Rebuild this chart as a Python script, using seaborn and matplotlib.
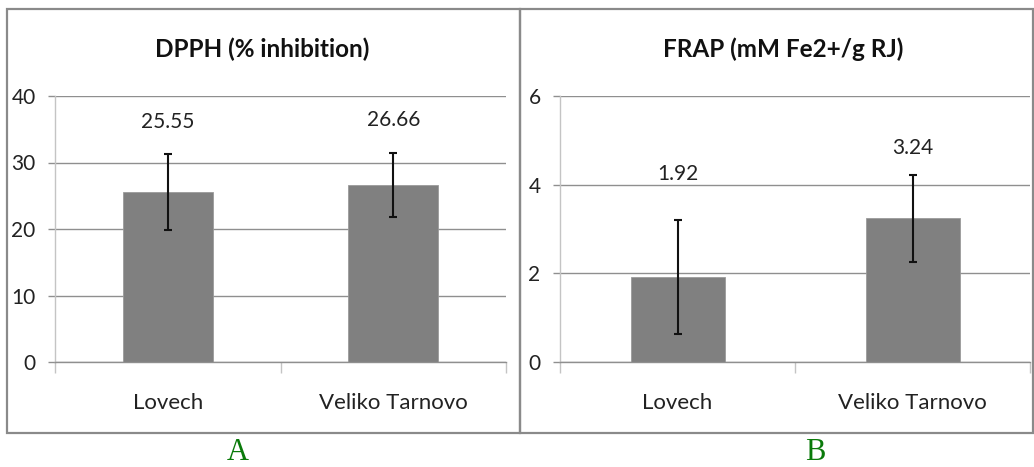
import matplotlib
matplotlib.use("Agg")
import matplotlib.pyplot as plt
from matplotlib.patches import Rectangle
import seaborn as sns
import pandas as pd

# ---- data ----
regions = ["Lovech", "Veliko Tarnovo"]
dpph_values = [25.55, 26.66]
dpph_errors = [5.7, 4.8]
frap_values = [1.92, 3.24]
frap_errors = [1.28, 0.98]
dpph_title = "DPPH (% inhibition)"
frap_title = "FRAP (mM Fe2+/g RJ)"
dpph_ticks = [0, 10, 20, 30, 40]
frap_ticks = [0, 2, 4, 6]
panel_letters = ["A", "B"]

sns.set_theme(style="white")
FONT = ["Lato", "DejaVu Sans"]
plt.rcParams["font.family"] = FONT

W, H = 1034, 467
fig = plt.figure(figsize=(W / 100, H / 100), dpi=100)


def fx(px):
    return px / W


def fy(py):
    return 1 - py / H


BAR_COLOR = "#808080"
GRID_COLOR = "#8f8f8f"
LIGHT = "#c4c4c4"
BORDER = "#8a8a8a"


def panel(ax_rect, values, errors, ticks, title, title_x, label_off_px):
    left, top, right, bottom = ax_rect
    ax = fig.add_axes([fx(left), fy(bottom), fx(right - left), (bottom - top) / H])
    df = pd.DataFrame({"region": regions, "value": values})
    sns.barplot(data=df, x="region", y="value", color=BAR_COLOR, saturation=1,
                width=0.4, errorbar=None, ax=ax, edgecolor="#9a9a9a", linewidth=0.6)
    xs = [p.get_x() + p.get_width() / 2 for p in ax.patches]
    ax.errorbar(xs, values, yerr=errors, fmt="none", ecolor="#111111",
                elinewidth=1.5, capsize=2.8, capthick=1.5, zorder=5)
    ax.set_xlim(-0.5, 1.5)
    ax.set_ylim(ticks[0], ticks[-1])
    ax.set_yticks(ticks)
    ax.set_yticklabels([str(t) for t in ticks])
    ax.yaxis.grid(True, color=GRID_COLOR, linewidth=1.0)
    ax.set_axisbelow(True)
    ax.set_xlabel("")
    ax.set_ylabel("")
    for s in ["top", "right"]:
        ax.spines[s].set_visible(False)
    ax.spines["left"].set_color(LIGHT)
    ax.spines["left"].set_linewidth(1.0)
    ax.spines["bottom"].set_color(GRID_COLOR)
    ax.spines["bottom"].set_linewidth(1.0)
    ax.tick_params(axis="y", which="major", length=5, width=1.0, color=GRID_COLOR,
                   pad=9, labelsize=15, labelcolor="#222222", left=True)
    ax.set_xticks([-0.5, 0.5, 1.5], minor=True)
    ax.tick_params(axis="x", which="minor", length=8, width=1.0, color=LIGHT,
                   bottom=True, direction="out")
    ax.tick_params(axis="x", which="major", length=0, pad=22, labelsize=16,
                   labelcolor="#222222")
    for x, v, e, off in zip(xs, values, errors, label_off_px):
        ax.annotate(f"{v:.2f}", xy=(x, v + e), xytext=(0, off * 0.72),
                    textcoords="offset points", ha="center", va="center",
                    fontsize=15, color="#222222")
    fig.text(fx(title_x), fy(49), title, ha="center", va="center",
             fontsize=17.5, fontweight="bold", color="#111111")
    return ax


panel((55, 96, 506, 362), dpph_values, dpph_errors, dpph_ticks, dpph_title, 262, [32, 33])
panel((560, 96, 1030, 362), frap_values, frap_errors, frap_ticks, frap_title, 783, [46, 27])

# panel borders
for (x0, x1) in [(7, 520), (520, 1033)]:
    fig.patches.append(Rectangle((fx(x0), fy(433)), fx(x1 - x0), (433 - 9) / H,
                                 transform=fig.transFigure, fill=False,
                                 edgecolor=BORDER, linewidth=1.6))

for letter, xc in zip(panel_letters, [238, 815]):
    fig.text(fx(xc), fy(452), letter, ha="center", va="center", fontsize=22,
             color="#0a7a0a", family=["Liberation Serif", "DejaVu Serif"])

fig.savefig("out.png", dpi=100)
